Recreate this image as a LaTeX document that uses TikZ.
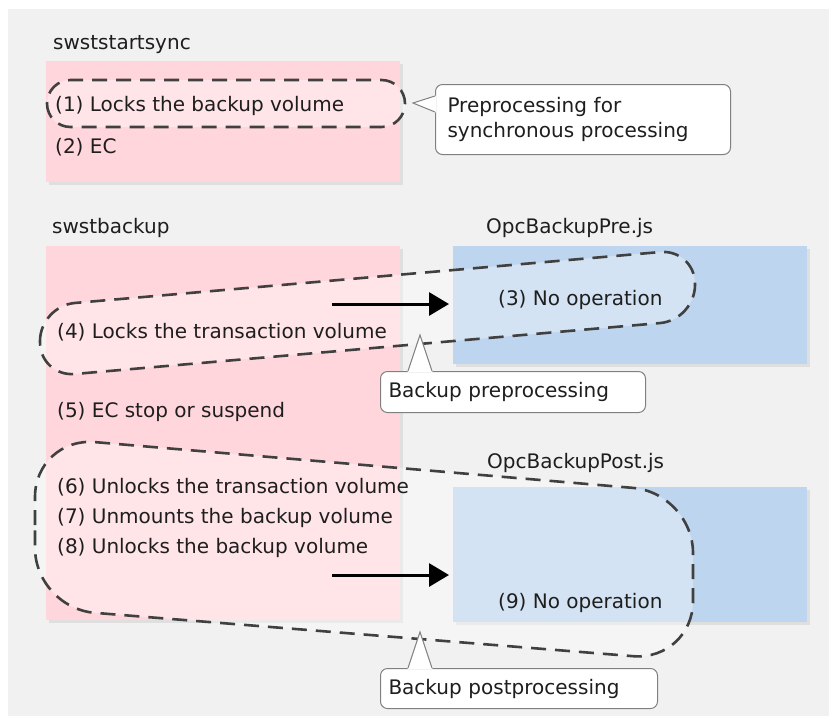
\documentclass[tikz,border=0pt]{standalone}
\usepackage{fontspec}
\setmainfont{DejaVu Sans}
\usetikzlibrary{shadows,arrows.meta}
\definecolor{bgc}{HTML}{F1F1F1}
\definecolor{pinkc}{HTML}{FFD6DC}
\definecolor{bluec}{HTML}{BDD5EE}
\definecolor{dashc}{HTML}{404040}
\definecolor{txtc}{HTML}{1E1E1E}
\definecolor{callc}{HTML}{808080}
\begin{document}
\begin{tikzpicture}[x=1pt,y=-1pt,
  font=\fontsize{20}{24}\selectfont,
  txt/.style={anchor=west, inner sep=0pt, text=txtc},
  procbox/.style={draw=none, anchor=north west, inner sep=0pt,
    drop shadow={shadow xshift=2.5pt, shadow yshift=-2.5pt, opacity=0.07, fill=black}},
  pinkbox/.style={procbox, fill=pinkc},
  bluebox/.style={procbox, fill=bluec},
  dsh/.style={draw=dashc, line width=2.6pt, dash pattern=on 15pt off 9pt,
    fill=white, fill opacity=0.35, draw opacity=1},
  callbox/.style={draw=callc, line width=1pt, fill=white, rounded corners=7pt,
    anchor=north west, inner ysep=0pt, align=left, text=txtc},
  callptr/.style={draw=callc, line width=1pt},
  arr/.style={line width=3pt, -{Triangle[length=20pt,width=23pt]}},
]
\useasboundingbox (0,0) rectangle (829,716);
\fill[bgc] (8,9) rectangle (829,716);

% boxes
\node[pinkbox, minimum width=354pt, minimum height=121pt] (p1) at (46,61) {};
\node[pinkbox, minimum width=354pt, minimum height=374pt] (p2) at (46,246) {};
\node[bluebox, minimum width=354pt, minimum height=118pt] (b1) at (453,246) {};
\node[bluebox, minimum width=354pt, minimum height=135pt] (b2) at (453,487) {};

% box titles
\node[txt] (l1) at (53,45) {swststartsync};
\node[txt] (l2) at (52,228) {swstbackup};
\node[txt] (l3) at (486,228) {OpcBackupPre.js};

% dashed groups
\draw[dsh, rounded corners=23.5pt] (47,80) rectangle (405,127);
\draw[dsh, rounded corners=35pt] (40,341) -- (40,306) -- (695,249) -- (695,320) -- (40,377) -- (40,341);
\draw[dsh, rounded corners=60pt] (35,525) -- (35,437) -- (693,493) -- (693,661) -- (35,608) -- (35,525);

\node[txt] (l4) at (487,463) {OpcBackupPost.js};

% step texts
\node[txt] (s1) at (55,106) {(1) Locks the backup volume};
\node[txt] (s2) at (55,147) {(2) EC};
\node[txt] (s3) at (498,300) {(3) No operation};
\node[txt] (s4) at (57,332) {(4) Locks the transaction volume};
\node[txt] (s5) at (57,412) {(5) EC stop or suspend};
\node[txt] (s6) at (57,487) {(6) Unlocks the transaction volume};
\node[txt] (s7) at (57,518) {(7) Unmounts the backup volume};
\node[txt] (s8) at (57,548) {(8) Unlocks the backup volume};
\node[txt] (s9) at (498,603) {(9) No operation};

% arrows
\coordinate (a1s) at (332,304);
\coordinate (a1e) at (449,304);
\coordinate (a2s) at (332,575);
\coordinate (a2e) at (449,575);
\draw[arr] (a1s) -- (a1e);
\draw[arr] (a2s) -- (a2e);

% callout 1
\node[callbox, inner xsep=12pt, text width=271pt, minimum height=70pt] (c1) at (435,84)
  {Preprocessing for\\[1pt]synchronous processing};
\coordinate (c1t) at (413,103);
\fill[white] (436,95.5) -- (c1t) -- (436,112.5) -- cycle;
\draw[callptr] (435,96) -- (c1t) -- (435,112);

% callout 2
\node[callbox, inner xsep=8pt, text width=249pt, minimum height=41pt] (c2) at (380,371)
  {Backup preprocessing};
\coordinate (c2t) at (420,335);
\fill[white] (407.5,372) -- (c2t) -- (432.5,372) -- cycle;
\draw[callptr] (408,371) -- (c2t) -- (432,371);

% callout 3
\node[callbox, inner xsep=8pt, text width=261pt, minimum height=40pt] (c3) at (380,668)
  {Backup postprocessing};
\coordinate (c3t) at (420,632);
\fill[white] (407.5,669) -- (c3t) -- (432.5,669) -- cycle;
\draw[callptr] (408,668) -- (c3t) -- (432,668);
\end{tikzpicture}
\end{document}
